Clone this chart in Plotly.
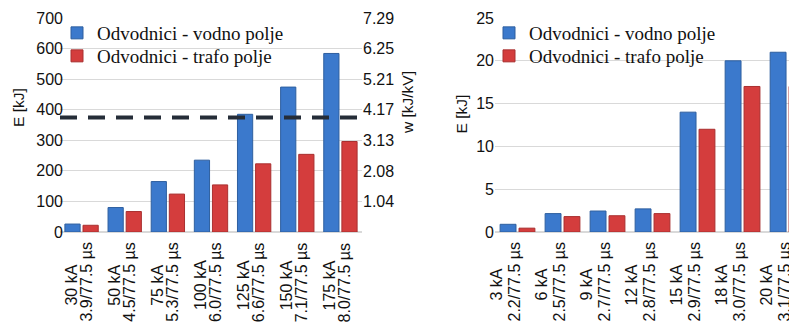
import plotly.graph_objects as go

# ---------------- data ----------------
left_currents = ["30 kA", "50 kA", "75 kA", "100 kA", "125 kA", "150 kA", "175 kA"]
left_waves = ["3.9/77.5 µs", "4.5/77.5 µs", "5.3/77.5 µs", "6.0/77.5 µs",
              "6.6/77.5 µs", "7.1/77.5 µs", "8.0/77.5 µs"]
left_vodno = [26, 80, 165, 235, 385, 474, 584]
left_trafo = [22, 67, 124, 154, 223, 254, 296]

right_currents = ["3 kA", "6 kA", "9 kA", "12 kA", "15 kA", "18 kA", "20 kA"]
right_waves = ["2.2/77.5 µs", "2.5/77.5 µs", "2.7/77.5 µs", "2.8/77.5 µs",
               "2.9/77.5 µs", "3.0/77.5 µs", "3.1/77.5 µs"]
right_vodno = [0.9, 2.15, 2.45, 2.7, 14.0, 20.0, 21.0]
right_trafo = [0.45, 1.8, 1.9, 2.15, 12.0, 17.0, 17.0]

w_ticks = [1.04, 2.08, 3.13, 4.17, 5.21, 6.25, 7.29]
w_ticktext = ["1.04", "2.08", "3.13", "4.17", "5.21", "6.25", "7.29"]
w_limit = 3.9

name_vodno = "Odvodnici - vodno polje"
name_trafo = "Odvodnici - trafo polje"

# ---------------- style ----------------
# page body has an 8px margin, so the figure is 8px smaller than the window
OFF = 8
W, H = 797 - OFF, 327 - OFF
MT, MB = 18 - OFF, 95
PH = H - MT - MB
BLUE, BLUE_EDGE = "#3b79cc", "#2e5f9f"
RED, RED_EDGE = "#d43d3d", "#a93030"
GRID = "#d9d9d9"
SANS = "Liberation Sans, Arial, sans-serif"
SERIF = "Liberation Serif, Times New Roman, serif"
TXT = "#111111"


def py(pix):
    """window pixel row -> paper y"""
    return (232 - pix) / PH


def px(pix):
    """window pixel column -> paper x"""
    return (pix - OFF) / W


fig = go.Figure()
fig.add_trace(go.Bar(x=left_currents, y=left_vodno, name=name_vodno,
                     marker=dict(color=BLUE, line=dict(color=BLUE_EDGE, width=1)),
                     xaxis="x", yaxis="y", legend="legend"))
fig.add_trace(go.Bar(x=left_currents, y=left_trafo, name=name_trafo,
                     marker=dict(color=RED, line=dict(color=RED_EDGE, width=1)),
                     xaxis="x", yaxis="y", legend="legend2"))
fig.add_trace(go.Bar(x=right_currents, y=right_vodno, name=name_vodno,
                     marker=dict(color=BLUE, line=dict(color=BLUE_EDGE, width=1)),
                     xaxis="x2", yaxis="y2", legend="legend3"))
fig.add_trace(go.Bar(x=right_currents, y=right_trafo, name=name_trafo,
                     marker=dict(color=RED, line=dict(color=RED_EDGE, width=1)),
                     xaxis="x2", yaxis="y2", legend="legend4"))
# invisible trace to activate the w axis
fig.add_trace(go.Scatter(x=[left_currents[0]], y=[0], xaxis="x", yaxis="y3",
                         mode="markers", marker=dict(opacity=0), showlegend=False,
                         hoverinfo="skip"))

tickfont = dict(family=SANS, size=16, color=TXT)
labfont = dict(family=SANS, size=16, color=TXT)

annotations = []
# category labels (two lines each, rotated)
for cur, wave in zip(left_currents, left_waves):
    annotations.append(dict(x=cur, xref="x", y=py(285), yref="paper", text=cur,
                            textangle=-90, showarrow=False, xanchor="center",
                            yanchor="middle", xshift=-11, font=labfont))
    annotations.append(dict(x=cur, xref="x", y=py(282), yref="paper", text=wave,
                            textangle=-90, showarrow=False, xanchor="center",
                            yanchor="middle", xshift=4, font=labfont))
for cur, wave in zip(right_currents, right_waves):
    annotations.append(dict(x=cur, xref="x2", y=py(285), yref="paper", text=cur,
                            textangle=-90, showarrow=False, xanchor="center",
                            yanchor="middle", xshift=-22, font=labfont))
    annotations.append(dict(x=cur, xref="x2", y=py(282), yref="paper", text=wave,
                            textangle=-90, showarrow=False, xanchor="center",
                            yanchor="middle", xshift=-4, font=labfont))
# axis titles
titlefont = dict(family=SANS, size=15.5, color=TXT)
annotations.append(dict(x=px(18), y=py(108), xref="paper", yref="paper", text="E [kJ]",
                        textangle=-90, showarrow=False, xanchor="center", yanchor="middle",
                        font=titlefont))
annotations.append(dict(x=px(407.5), y=py(102.5), xref="paper", yref="paper", text="w [kJ/kV]",
                        textangle=-90, showarrow=False, xanchor="center", yanchor="middle",
                        font=titlefont))
annotations.append(dict(x=px(460.5), y=py(114), xref="paper", yref="paper", text="E [kJ]",
                        textangle=-90, showarrow=False, xanchor="center", yanchor="middle",
                        font=titlefont))

legfont = dict(family=SERIF, size=19, color=TXT)


def leg(xpix, top_pix):
    return dict(x=px(xpix), y=py(top_pix), xanchor="left", yanchor="top",
                bgcolor="rgba(0,0,0,0)", font=legfont, itemclick=False,
                itemdoubleclick=False)


fig.update_layout(
    width=W, height=H,
    margin=dict(l=0, r=0, t=MT, b=MB, autoexpand=False),
    paper_bgcolor="white", plot_bgcolor="white",
    barmode="group", bargap=0.16, bargroupgap=0.16,
    xaxis=dict(domain=[px(60), px(362)], type="category", range=[-0.5, 6.5],
               showticklabels=False, showgrid=False, ticks="", anchor="y",
               categoryorder="array", categoryarray=left_currents),
    yaxis=dict(domain=[0, 1], range=[0, 700], dtick=100, anchor="x",
               showgrid=True, gridcolor=GRID, zeroline=True, zerolinecolor=GRID,
               ticks="", tickfont=tickfont, showline=False, ticklabelstandoff=-4),
    yaxis3=dict(overlaying="y", side="right", anchor="x", range=[0, 7.29],
                tickvals=w_ticks, ticktext=w_ticktext, showgrid=False, zeroline=False,
                ticks="", tickfont=tickfont, showline=False),
    xaxis2=dict(domain=[px(495), 1], type="category", range=[-0.5, 6.21],
                showticklabels=False, showgrid=False, ticks="", anchor="y2",
                categoryorder="array", categoryarray=right_currents),
    yaxis2=dict(domain=[0, 1], range=[0, 25], dtick=5, anchor="x2",
                showgrid=True, gridcolor=GRID, zeroline=True, zerolinecolor=GRID,
                ticks="", tickfont=tickfont, showline=False),
    legend=leg(57, 14),
    legend2=leg(57, 37),
    legend3=leg(489, 14),
    legend4=leg(489, 37),
    annotations=annotations,
    shapes=[dict(type="line", xref="x domain", x0=0, x1=1, yref="y3",
                 y0=w_limit, y1=w_limit, layer="above",
                 line=dict(color="#252d38", width=4, dash="17px,11px"))],
    showlegend=True,
)

fig.write_html("out.html")
